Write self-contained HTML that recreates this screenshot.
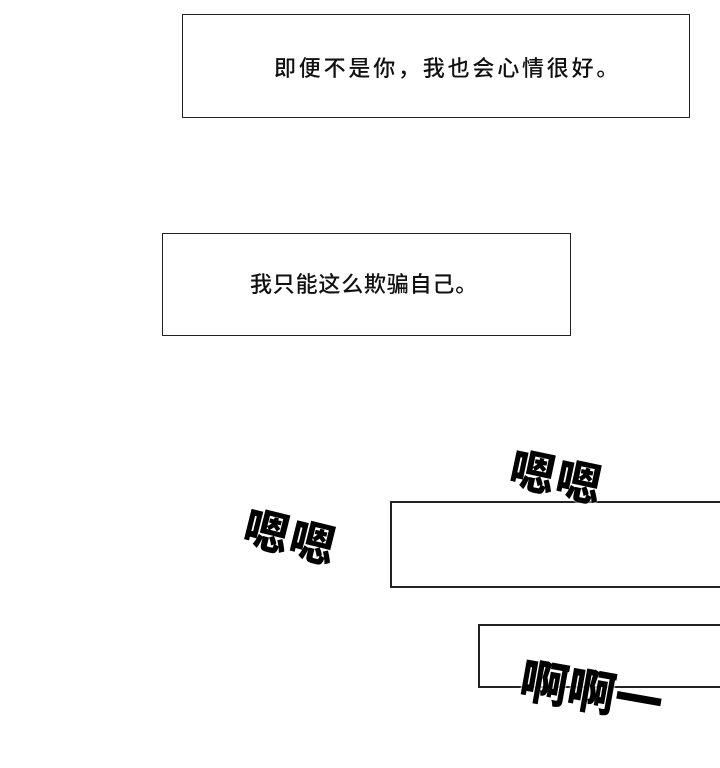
<!DOCTYPE html>
<html><head><meta charset="utf-8"><style>
body{margin:0;width:720px;height:768px;background:#fff;position:relative;overflow:hidden;font-family:"Liberation Sans","Noto Sans CJK SC",sans-serif}
.b{position:absolute;border:1.5px solid #222;background:#fff;box-sizing:border-box}
.t{position:absolute;font-size:22px;color:#111;white-space:nowrap;line-height:1;font-family:"Liberation Sans","Noto Sans CJK SC",sans-serif;font-weight:500}
.s{position:absolute;font-weight:900;color:#000;white-space:nowrap;line-height:1;font-family:"Noto Sans CJK SC",sans-serif;text-shadow:0 0 2px #fff,0 0 2px #fff;}
</style></head><body>
<div class="b" style="left:182px;top:14px;width:508px;height:104px"></div>
<div class="t" style="left:274px;top:58px;letter-spacing:2.8px">即便不是你，我也会心情很好。</div>
<div class="b" style="left:162px;top:233px;width:409px;height:103px"></div>
<div class="t" style="left:250px;top:274px;letter-spacing:0.8px">我只能这么欺骗自己。</div>
<div class="b" style="left:390px;top:501px;width:340px;height:87px;border-width:2px"></div>
<div class="b" style="left:478px;top:624px;width:260px;height:64px;border-width:2px"></div>
<div class="s" style="left:244px;top:512px;transform:rotate(14deg);font-size:45px;letter-spacing:2px">嗯嗯</div>
<div class="s" style="left:510px;top:452px;transform:rotate(12deg);font-size:45px;letter-spacing:2px">嗯嗯</div>
<div class="s" style="left:520px;top:664px;transform:rotate(10deg);font-size:48px;letter-spacing:0px">啊啊一</div>
</body></html>
